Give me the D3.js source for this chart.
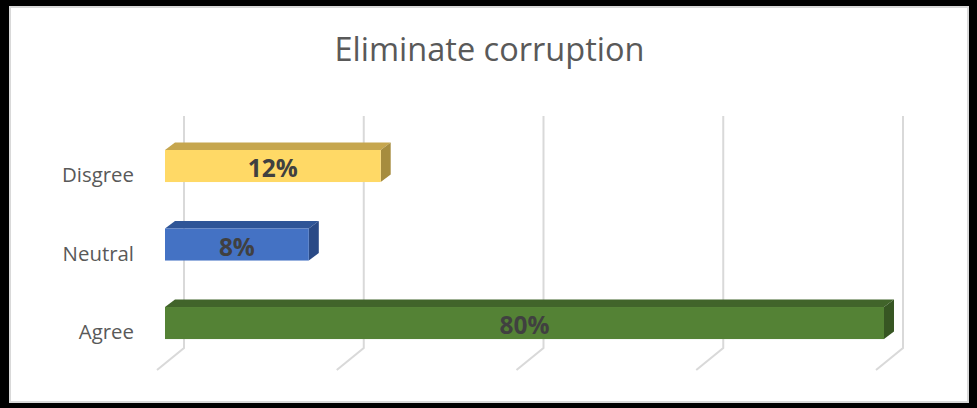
<!DOCTYPE html>
<html>
<head>
<meta charset="utf-8">
<script src="https://cdn.jsdelivr.net/npm/d3@7"></script>
<style>
  html, body { margin: 0; padding: 0; background: #000; }
  svg { display: block; }
</style>
</head>
<body>
<svg id="chart" width="977" height="408"></svg>
<script>
// ---- data ----
const title = "Eliminate corruption";
const categories = ["Disgree", "Neutral", "Agree"];
const barValues = [24, 16, 80];          // bar lengths as drawn in the picture
const dataLabels = ["12%", "8%", "80%"]; // label text shown on the bars
const gridTicks = [0, 20, 40, 60, 80];
const frontColors = ["#FFD966", "#4472C4", "#548235"];
const topColors   = ["#C6A64E", "#2F5597", "#41642A"];
const sideColors  = ["#A68C3E", "#2A4A86", "#375623"];

// ---- layout ----
const W = 977, H = 408;
const depthX = 10, depthY = 7.5;       // bar depth offset
const wallDX = 19;                     // back wall offset from bar front plane
const floorDX = -8, floorDY = 22;      // floor front edge offset
const wallTop = 116, wallBottom = 348;

const svg = d3.select("#chart");

// frame
svg.append("rect").attr("x", 0).attr("y", 0).attr("width", W).attr("height", H).attr("fill", "#000");
svg.append("rect").attr("x", 10).attr("y", 7).attr("width", 958).attr("height", 395)
  .attr("fill", "#fff").attr("stroke", "#d9d9d9").attr("stroke-width", 2);

const x = d3.scaleLinear().domain([0, 80]).range([165, 884]);
const y = d3.scaleBand().domain(categories)
  .range([110.75, 378.3]).paddingInner(0.592).paddingOuter(0.5);

// gridlines (back wall verticals + floor diagonals)
const grid = svg.append("g").attr("class", "grid");
grid.selectAll("path").data(gridTicks).join("path")
  .attr("d", v => {
    const xb = x(v) + wallDX;
    return `M${xb},${wallTop} L${xb},${wallBottom} L${x(v) + floorDX},${wallBottom + floorDY}`;
  })
  .attr("fill", "none").attr("stroke", "#d9d9d9").attr("stroke-width", 2);

// bars
const bars = svg.append("g").attr("class", "bars")
  .selectAll("g").data(categories).join("g");

bars.append("path") // top face
  .attr("d", (c, i) => {
    const x0 = x(0), x1 = x(barValues[i]), y0 = y(c);
    return `M${x0},${y0} L${x1},${y0} L${x1 + depthX},${y0 - depthY} L${x0 + depthX},${y0 - depthY} Z`;
  })
  .attr("fill", (c, i) => topColors[i]);

bars.append("path") // side face
  .attr("d", (c, i) => {
    const x1 = x(barValues[i]), y0 = y(c), y1 = y(c) + y.bandwidth();
    return `M${x1},${y0} L${x1 + depthX},${y0 - depthY} L${x1 + depthX},${y1 - depthY} L${x1},${y1} Z`;
  })
  .attr("fill", (c, i) => sideColors[i]);

bars.append("rect") // front face
  .attr("x", x(0))
  .attr("y", c => y(c))
  .attr("width", (c, i) => x(barValues[i]) - x(0))
  .attr("height", y.bandwidth())
  .attr("fill", (c, i) => frontColors[i]);

// data labels
const dl = bars.append("text")
  .attr("x", (c, i) => (x(0) + x(barValues[i])) / 2)
  .attr("y", c => y(c) + y.bandwidth() / 2 + 11)
  .attr("text-anchor", "middle")
  .attr("font-family", "'Open Sans', sans-serif")
  .attr("font-weight", "bold")
  .attr("font-size", 22)
  .attr("fill", "#404040")
  .text((c, i) => dataLabels[i]);

// category labels
const cl = svg.append("g").selectAll("text").data(categories).join("text")
  .attr("x", 134)
  .attr("y", c => y(c) + y.bandwidth() / 2 + 16)
  .attr("text-anchor", "end")
  .attr("font-family", "'Open Sans', sans-serif")
  .attr("font-size", 19)
  .attr("fill", "#595959")
  .text(c => c);

// title
const tt = svg.append("text")
  .attr("x", 489.5).attr("y", 61)
  .attr("text-anchor", "middle")
  .attr("font-family", "'Open Sans', sans-serif")
  .attr("font-size", 30)
  .attr("fill", "#595959")
  .text(title);

// fit font sizes to the widths measured in the reference
function fit(sel, node, target) {
  const fs = +sel.attr("font-size");
  const w = node.getComputedTextLength();
  sel.attr("font-size", (fs * target / w).toFixed(2));
}
fit(tt, tt.node(), 310);
fit(cl, cl.nodes()[0], 72);
fit(dl, dl.nodes()[0], 50);
</script>
</body>
</html>
